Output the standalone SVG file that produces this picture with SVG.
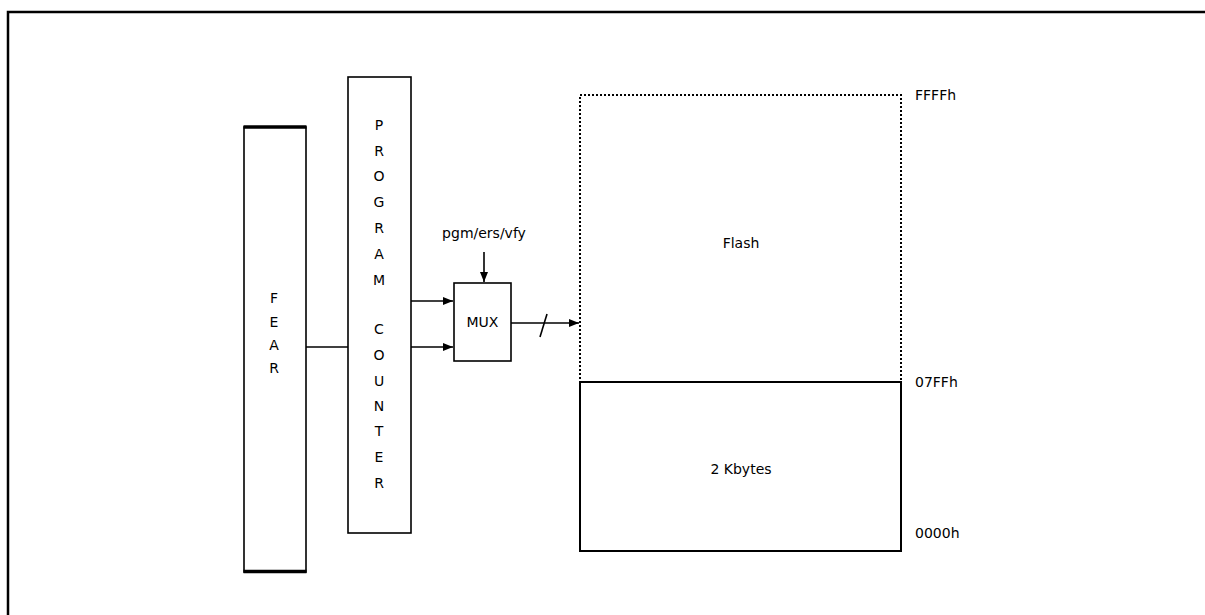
<svg xmlns="http://www.w3.org/2000/svg" width="1205" height="615" viewBox="0 0 1205 615">
<defs>
<style>
.box{fill:#fff;stroke:#000;stroke-width:1.6}
.ln{fill:none;stroke:#000;stroke-width:1.6}
.t{font-family:"DejaVu Sans",Verdana,sans-serif;font-size:14px;fill:#000}
.c{text-anchor:middle}
</style>
<marker id="ah" viewBox="0 0 10 8" refX="10" refY="4" markerWidth="10" markerHeight="8" markerUnits="userSpaceOnUse" orient="auto">
<path d="M0,0 L10,4 L0,8 Z" fill="#000"/>
</marker>
</defs>
<rect width="1205" height="615" fill="#fff"/>
<path d="M8,630 V12 H1220" fill="none" stroke="#000" stroke-width="2.5"/>
<g id="connectors">
<line class="ln" x1="306" y1="347" x2="348" y2="347"/>
<line class="ln" x1="411" y1="301" x2="453" y2="301" marker-end="url(#ah)"/>
<line class="ln" x1="411" y1="347" x2="453" y2="347" marker-end="url(#ah)"/>
<line class="ln" x1="484" y1="252" x2="484" y2="282" marker-end="url(#ah)"/>
<line class="ln" x1="511" y1="323" x2="579" y2="323" marker-end="url(#ah)"/>
<line class="ln" x1="540" y1="337" x2="547" y2="314"/>
</g>
<g id="fear">
<rect class="box" x="244" y="127" width="62" height="445"/>
<line x1="243.5" y1="127" x2="306.5" y2="127" stroke="#000" stroke-width="3.5"/>
<line x1="243.5" y1="571.5" x2="306.5" y2="571.5" stroke="#000" stroke-width="3.5"/>
<text class="t c" x="274" y="303">F</text>
<text class="t c" x="274" y="327">E</text>
<text class="t c" x="274" y="350">A</text>
<text class="t c" x="274" y="373">R</text>
</g>
<g id="program-counter">
<rect class="box" x="348" y="77" width="63" height="456"/>
<text class="t c" x="379" y="130">P</text>
<text class="t c" x="379" y="156">R</text>
<text class="t c" x="379" y="181">O</text>
<text class="t c" x="379" y="207">G</text>
<text class="t c" x="379" y="233">R</text>
<text class="t c" x="379" y="259">A</text>
<text class="t c" x="379" y="285">M</text>
<text class="t c" x="379" y="334">C</text>
<text class="t c" x="379" y="360">O</text>
<text class="t c" x="379" y="386">U</text>
<text class="t c" x="379" y="411">N</text>
<text class="t c" x="379" y="436">T</text>
<text class="t c" x="379" y="462">E</text>
<text class="t c" x="379" y="488">R</text>
</g>
<g id="mux">
<rect class="box" x="454" y="283" width="57" height="78"/>
<text class="t c" x="482.5" y="327">MUX</text>
<text class="t c" x="484" y="238">pgm/ers/vfy</text>
</g>
<g id="flash">
<rect x="580" y="95" width="321" height="287" fill="none" stroke="#000" stroke-width="2" stroke-dasharray="2 2"/>
<text class="t c" x="741" y="248">Flash</text>
<text class="t" x="915" y="100">FFFFh</text>
</g>
<g id="kbytes">
<rect x="580" y="382" width="321" height="169" fill="none" stroke="#000" stroke-width="2"/>
<text class="t c" x="741" y="474">2 Kbytes</text>
<text class="t" x="915" y="387">07FFh</text>
<text class="t" x="915" y="538">0000h</text>
</g>
</svg>
